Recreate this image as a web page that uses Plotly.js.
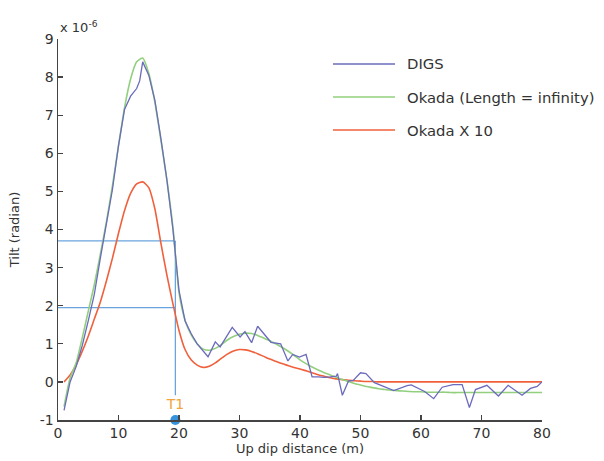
<!DOCTYPE html>
<html>
<head>
<meta charset="utf-8">
<script src="https://cdn.plot.ly/plotly-3.0.1.min.js"></script>
<style>
html,body{margin:0;padding:0;background:#fff;}
#chart{width:604px;height:461px;}
</style>
</head>
<body>
<div id="chart"></div>
<script>
// ---- data (tilt in units of 1e-6 radian, distance in m) ----
var modelX = [1,2,3,4,5,6,7,8,9,10,11,12,13,14,15,16,17,18,19,20,
  21,22,23,24,25,26,27,28,29,30,31,32,33,34,35,36,37,38,39,40,
  41,42,43,44,45,46,47,48,49,50,51,52,53,54,55,56,57,58,59,60,
  61,62,63,64,65,66,67,68,69,70,71,72,73,74,75,76,77,78,79,80];

var okadaInf = [-0.65,0.1,0.5,1.15,1.85,2.55,3.35,4.2,5.15,6.2,7.2,7.95,8.4,8.5,8.1,7.35,6.35,5.3,4.05,2.35,
  1.62,1.24,1.0,0.86,0.83,0.88,0.98,1.1,1.19,1.25,1.28,1.27,1.22,1.15,1.08,1.0,0.91,0.81,0.7,0.58,
  0.48,0.39,0.31,0.24,0.18,0.12,0.06,0.01,-0.04,-0.08,-0.12,-0.15,-0.18,-0.2,-0.22,-0.23,-0.24,-0.25,-0.26,-0.26,
  -0.27,-0.27,-0.27,-0.27,-0.28,-0.28,-0.28,-0.28,-0.28,-0.28,-0.28,-0.28,-0.28,-0.28,-0.28,-0.28,-0.28,-0.28,-0.28,-0.28];

var okadaX10 = [0.0,0.18,0.45,0.8,1.2,1.65,2.1,2.65,3.25,3.9,4.5,4.95,5.2,5.25,5.1,4.55,3.65,2.8,2.05,1.35,
  0.85,0.58,0.44,0.38,0.41,0.5,0.62,0.73,0.81,0.85,0.84,0.8,0.74,0.67,0.6,0.54,0.48,0.43,0.38,0.34,
  0.29,0.24,0.19,0.15,0.11,0.08,0.06,0.04,0.03,0.02,0.01,0.01,0.0,0.0,0.0,0.0,0.0,0.0,0.0,0.0,
  0.0,0.0,0.0,0.0,0.0,0.0,0.0,0.0,0.0,0.0,0.0,0.0,0.0,0.0,0.0,0.0,0.0,0.0,0.0,0.0];

var digsX = [1,2,3,4,5,6,7,8,9,10,11,12,13,13.5,14,15,16,17,18,19,20,
  21,22,23,24,24.8,26,26.8,28.8,30.1,30.9,32,33,34.2,35.2,36.8,38,38.8,39.9,41,
  42,43,44,45,46,46.2,47,48,48.8,50,50.9,52.3,53.3,55.5,57.7,58.4,60.6,62.1,63.5,
  65.3,66.8,68,69,70.9,72.8,74.4,76.7,78.1,79.2,80];
var digsY = [-0.75,0.0,0.4,0.95,1.6,2.3,3.25,4.15,5.05,6.2,7.15,7.5,7.7,7.9,8.4,8.05,7.4,6.4,5.3,4.0,2.4,
  1.6,1.27,1.0,0.8,0.66,1.05,0.92,1.43,1.18,1.32,1.03,1.46,1.22,1.04,1.0,0.55,0.72,0.65,0.72,
  0.13,0.13,0.12,0.13,0.15,0.22,-0.35,0.02,0.04,0.24,0.22,-0.02,-0.08,-0.23,-0.1,-0.08,-0.25,-0.44,-0.14,
  -0.07,-0.07,-0.67,-0.2,-0.09,-0.37,-0.09,-0.35,-0.17,-0.12,0.0];

// T1 marker and its guide levels
var t1X = 19.4;
var guideLevels = [3.7, 1.95];
var guideBottom = -0.35;
var axisMin = -1;

var seriesNames = ['DIGS', 'Okada (Length = infinity)', 'Okada X 10'];
var seriesColors = ['#6b6bbd', '#92d07e', '#f0603c'];

var xTicks = [0,10,20,30,40,50,60,70,80];
var yTicks = [-1,0,1,2,3,4,5,6,7,8,9];

var guideColor = '#6aa4de';
var traces = [];
guideLevels.forEach(function(v){
  traces.push({x:[0, t1X], y:[v, v], mode:'lines', line:{color:guideColor, width:1.3}, showlegend:false, hoverinfo:'skip'});
});
traces.push({x:[t1X, t1X], y:[guideLevels[0], guideBottom], mode:'lines', line:{color:guideColor, width:1.3}, showlegend:false, hoverinfo:'skip'});

traces.push({x:modelX, y:okadaX10, mode:'lines', name:seriesNames[2], line:{color:seriesColors[2], width:1.6, shape:'spline', smoothing:0.6}, showlegend:false});
traces.push({x:modelX, y:okadaInf, mode:'lines', name:seriesNames[1], line:{color:seriesColors[1], width:1.6, shape:'spline', smoothing:0.6}, showlegend:false});
traces.push({x:digsX, y:digsY, mode:'lines', name:seriesNames[0], line:{color:seriesColors[0], width:1.3}, showlegend:false});

traces.push({x:[t1X], y:[axisMin], mode:'markers+text', text:['T1'], textposition:'top center',
  textfont:{family:'DejaVu Sans, sans-serif', size:14, color:'#f2a43a'},
  marker:{color:'#3592dc', size:10}, cliponaxis:false, showlegend:false, hoverinfo:'skip'});

// manual legend
var shapes = [], annotations = [];
var legY = [64, 97, 130];
for (var i=0;i<3;i++){
  var yp = 1 - (legY[i]-39)/381;
  shapes.push({type:'line', xref:'paper', yref:'paper', x0:(333-58)/484, x1:(395-58)/484, y0:yp, y1:yp,
    line:{color:seriesColors[i], width:1.5}});
  annotations.push({xref:'paper', yref:'paper', x:(405-58)/484, y:yp, xanchor:'left', yanchor:'middle',
    text:seriesNames[i], showarrow:false, font:{family:'DejaVu Sans, sans-serif', size:14.8, color:'#333'}});
}
annotations.push({xref:'paper', yref:'paper', x:0, y:1, xanchor:'left', yanchor:'bottom', yshift:2,
  text:'x 10<sup>-6</sup>', showarrow:false, font:{family:'DejaVu Sans, sans-serif', size:13, color:'#333'}});

var axisFont = {family:'DejaVu Sans, sans-serif', size:14, color:'#333'};
var titleFont = {family:'DejaVu Sans, sans-serif', size:13, color:'#333'};
var layout = {
  width:604, height:461,
  margin:{l:58, r:62, t:39, b:41},
  paper_bgcolor:'#fff', plot_bgcolor:'#fff',
  showlegend:false,
  xaxis:{range:[0,80], tickvals:xTicks, ticktext:xTicks.map(String), ticks:'inside', ticklen:5, tickwidth:1.3,
    tickcolor:'#444', showline:true, linecolor:'#444', linewidth:1.5, showgrid:false, zeroline:false,
    tickfont:axisFont, title:{text:'Up dip distance (m)', font:titleFont, standoff:3}},
  yaxis:{range:[-1,9], tickvals:yTicks, ticktext:yTicks.map(String), ticks:'inside', ticklen:5, tickwidth:1.3,
    tickcolor:'#444', showline:true, linecolor:'#444', linewidth:1.5, showgrid:false, zeroline:false,
    tickfont:axisFont, title:{text:'Tilt (radian)', font:titleFont, standoff:17}},
  shapes:shapes, annotations:annotations
};
Plotly.newPlot('chart', traces, layout, {staticPlot:true});
</script>
</body>
</html>
